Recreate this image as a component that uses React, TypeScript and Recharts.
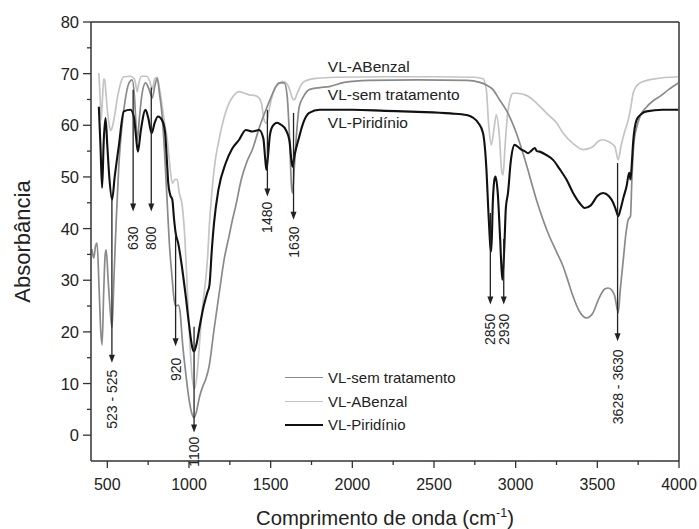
import React from "react";
import {
  LineChart,
  Line,
  XAxis,
  YAxis,
  ReferenceLine,
  ReferenceDot,
  Legend,
} from "recharts";

const FONT = '"Liberation Sans", Arial, Helvetica, sans-serif';
const INK = "#222";
const AXIS = "#333";

// [número de onda (cm-1), absorbância]
const semTratamento: [number, number][] = [
  [405, 36], [417, 34.3], [427, 36.5], [437, 37.2], [450, 28], [460, 20], [468, 17.5],
  [478, 28], [487, 35], [493, 35.9], [505, 30], [518, 24], [529, 20.8], [540, 30],
  [555, 42], [570, 52], [590, 60], [610, 65], [630, 68], [652, 68.8], [665, 66],
  [676, 60], [683, 57], [695, 61], [712, 66], [734, 68.2], [755, 67], [775, 65.3],
  [790, 67.5], [805, 69.1], [820, 66], [835, 62], [850, 55], [865, 46], [880, 37],
  [895, 31], [910, 26], [918, 25], [935, 25.2], [945, 24], [960, 18], [980, 12],
  [1000, 7], [1015, 4.5], [1031, 3.4], [1045, 4.5], [1065, 7.5], [1085, 9.5],
  [1102, 10.8], [1123, 13.3], [1153, 20.4], [1185, 27.5], [1215, 34], [1245, 38.5],
  [1266, 41.7], [1287, 44.5], [1320, 49.5], [1355, 53], [1388, 55.3], [1430, 59.5],
  [1471, 63], [1510, 66], [1552, 68.2], [1583, 68.2], [1600, 66], [1615, 58],
  [1628, 48], [1634, 46.9], [1645, 52], [1660, 59], [1675, 63.6], [1700, 65.5],
  [1736, 66.9], [1800, 67.3], [1859, 67.5], [1950, 68.3], [2100, 68.7], [2400, 68.8],
  [2700, 68.7], [2780, 68.3], [2820, 67.8], [2861, 66.9], [2900, 65], [2950, 62.5],
  [3004, 58.5], [3060, 53], [3127, 45.6], [3200, 39], [3250, 35.5], [3290, 32.7],
  [3311, 30.8], [3350, 27], [3390, 24], [3434, 22.7], [3470, 23.5], [3510, 26.5],
  [3545, 28.3], [3567, 28.5], [3590, 28], [3607, 26.9], [3618, 25], [3628, 23.7],
  [3640, 28], [3659, 34], [3675, 39], [3689, 41.7], [3703, 42.4], [3712, 50],
  [3724, 56.6], [3740, 59.5], [3761, 61.7], [3800, 63.5], [3840, 64.7], [3883, 65.6],
  [3940, 67], [3995, 68.2],
];

const aBenzal: [number, number][] = [
  [448, 70.1], [455, 66], [462, 61], [470, 65], [478, 69], [484, 68.8], [492, 66],
  [500, 63], [512, 60], [520, 59], [529, 59.5], [545, 62], [560, 65], [580, 68],
  [601, 69.4], [640, 69.5], [665, 69], [676, 67.5], [683, 66.5], [692, 68], [710, 69.5],
  [740, 69.5], [760, 68.5], [775, 67], [790, 69], [805, 69.3], [820, 67], [836, 63.6],
  [850, 60.5], [867, 57.2], [880, 53], [898, 48.8], [915, 49.5], [928, 49.5], [940, 47],
  [959, 44.3], [975, 38], [990, 28], [1005, 18], [1020, 11], [1035, 9], [1050, 12],
  [1065, 18], [1080, 24], [1102, 30], [1115, 35], [1123, 39.8], [1140, 47], [1160, 53],
  [1184, 57.2], [1215, 61.5], [1245, 64.3], [1275, 65.8], [1307, 66.5], [1340, 66.2],
  [1368, 65.9], [1400, 65.8], [1429, 65.3], [1445, 64], [1460, 61], [1474, 60.4],
  [1490, 63], [1521, 66.9], [1550, 68], [1572, 68.5], [1595, 68.2], [1613, 67.2],
  [1630, 65.5], [1644, 64.9], [1660, 66], [1695, 68.2], [1740, 68.9], [1777, 69.1],
  [1900, 69.3], [2200, 69.4], [2500, 69.4], [2750, 69.3], [2800, 69], [2820, 67],
  [2835, 60], [2851, 56.2], [2866, 59], [2882, 62], [2900, 58], [2915, 51], [2923, 50.4],
  [2935, 56], [2950, 62], [2970, 65.5], [2984, 66.2], [3004, 66.2], [3066, 65.8],
  [3127, 64.3], [3200, 62], [3250, 60.5], [3290, 58.5], [3350, 56.5], [3413, 55.3],
  [3470, 55.8], [3510, 57], [3535, 57.2], [3570, 56.8], [3607, 55.9], [3628, 53.3],
  [3645, 56], [3665, 58.5], [3689, 61], [3705, 63.5], [3719, 66.2], [3740, 67.6],
  [3761, 68.2], [3850, 69], [3995, 69.4],
];

const piridinio: [number, number][] = [
  [448, 63.6], [458, 56], [468, 47.9], [478, 57], [489, 61.4], [500, 56], [512, 50],
  [529, 45.6], [545, 50], [570, 55.9], [601, 62.7], [642, 63], [662, 61.7], [675, 58],
  [687, 54.9], [705, 59], [734, 63], [750, 61.5], [771, 58.5], [790, 60.5], [810, 61.7],
  [835, 61], [853, 58.8], [865, 53], [873, 48.8], [885, 46.5], [898, 45.6], [908, 42],
  [918, 39.2], [935, 37], [955, 33], [980, 26.9], [1000, 21.5], [1020, 17], [1031, 16.2],
  [1045, 17.5], [1065, 21], [1090, 25], [1112, 27.6], [1125, 29], [1140, 36], [1153, 41],
  [1180, 47.5], [1225, 52.7], [1265, 55.5], [1307, 57.2], [1348, 59.1], [1388, 58.8],
  [1429, 59.1], [1455, 57.5], [1468, 53], [1474, 51.4], [1482, 53.5], [1495, 58],
  [1511, 59.8], [1540, 60.5], [1563, 60.1], [1593, 59.1], [1615, 57], [1628, 53],
  [1634, 52], [1645, 54], [1675, 57.8], [1700, 60.5], [1736, 62.4], [1800, 63],
  [1859, 63], [2000, 63], [2200, 62.8], [2400, 62.6], [2600, 62.3], [2700, 62],
  [2738, 61.5], [2770, 60.5], [2800, 58.5], [2820, 52], [2835, 42], [2845, 36.5],
  [2851, 35.6], [2860, 45], [2870, 49.5], [2877, 50.1], [2890, 47], [2905, 38],
  [2918, 30.1], [2930, 36], [2940, 44], [2953, 46.9], [2970, 53], [2994, 56.2],
  [3015, 55.8], [3035, 55.3], [3055, 55], [3076, 54.6], [3100, 55.2], [3117, 55.6],
  [3130, 55], [3147, 54.9], [3190, 54.2], [3229, 53.3], [3270, 51.5], [3311, 49.5],
  [3350, 47], [3390, 45], [3423, 44], [3460, 44.5], [3500, 46.3], [3535, 46.9],
  [3570, 46.3], [3597, 45], [3615, 43.5], [3628, 42.4], [3640, 43.5], [3660, 46],
  [3679, 48.2], [3695, 50.8], [3703, 49.5], [3710, 52], [3719, 56.6], [3740, 61],
  [3770, 62.2], [3801, 62.7], [3900, 63], [3995, 63],
];

const xTicks = [500, 750, 1000, 1250, 1500, 1750, 2000, 2250, 2500, 2750, 3000, 3250, 3500, 3750, 4000];
const yTicks = [0, 5, 10, 15, 20, 25, 30, 35, 40, 45, 50, 55, 60, 65, 70, 75, 80];

// setas de atribuição das bandas
const arrowWn = [528, 658, 769, 918, 1031, 1480, 1640, 2845, 2927, 3624];
const arrowFrom = [45.6, 66.9, 67.3, 39.2, 21, 63, 62.4, 43, 38, 52.7];
const arrowTo = [14, 43.3, 43.3, 17.2, 0.5, 46.2, 41.7, 25.3, 25.3, 18.2];
const arrowText = ["523 - 525", "630", "800", "920", "1100", "1480", "1630", "2850", "2930", "3628 - 3630"];
const arrowTextTop = [12.7, 40.4, 40.4, 15, -0.3, 45.2, 40.4, 23.5, 23.5, 16.6];

// rótulos das curvas no topo
const tagNames = ["VL-ABenzal", "VL-sem tratamento", "VL-Piridínio"];
const tagLevel = [71.3, 65.9, 60.6];
const tagWn = 1850;

const toRows = (pts: [number, number][]) => pts.map(([wn, a]) => ({ wn, a }));

const series = [
  { name: "VL-sem tratamento", color: "#8a8a8a", width: 1.7, data: toRows(semTratamento) },
  { name: "VL-ABenzal", color: "#c4c4c4", width: 1.7, data: toRows(aBenzal) },
  { name: "VL-Piridínio", color: "#111111", width: 2.1, data: toRows(piridinio) },
];
// ordem de desenho: claro por baixo, preto por cima
const drawOrder = [1, 0, 2];

const XTick = (props: any) => {
  const { x, y, payload } = props;
  const major = payload.value % 500 === 0;
  return (
    <g>
      <line x1={x} y1={y} x2={x} y2={y + (major ? 7 : 4)} stroke={AXIS} strokeWidth={1.3} />
      {major && (
        <text x={x} y={y + 29} textAnchor="middle" fontSize={16} fill={INK} fontFamily={FONT}>
          {payload.value}
        </text>
      )}
    </g>
  );
};

const YTick = (props: any) => {
  const { x, y, payload } = props;
  const major = payload.value % 10 === 0;
  return (
    <g>
      <line x1={x - (major ? 8 : 4)} y1={y} x2={x} y2={y} stroke={AXIS} strokeWidth={1.3} />
      {major && (
        <text x={x - 12} y={y} textAnchor="end" dominantBaseline="central" fontSize={16.5} fill={INK} fontFamily={FONT}>
          {payload.value}
        </text>
      )}
    </g>
  );
};

const XTitle = (props: any) => {
  const { x, y, width } = props.viewBox;
  return (
    <text x={x + width / 2} y={y + 64} textAnchor="middle" fontSize={20.3} fill={INK} fontFamily={FONT}>
      Comprimento de onda (cm
      <tspan dy={-8} fontSize={12.5}>-1</tspan>
      <tspan dy={8}>)</tspan>
    </text>
  );
};

const YTitle = (props: any) => {
  const { y, height } = props.viewBox;
  const cx = 22;
  const cy = y + height / 2;
  return (
    <text
      x={cx}
      y={cy}
      transform={`rotate(-90 ${cx} ${cy})`}
      textAnchor="middle"
      dominantBaseline="central"
      fontSize={22}
      fill={INK}
      fontFamily={FONT}
    >
      Absorbância
    </text>
  );
};

const ArrowHead = (props: any) => {
  const { cx, cy } = props;
  return <polygon points={`${cx - 3},${cy - 8} ${cx + 3},${cy - 8} ${cx},${cy}`} fill={INK} />;
};

const makeVerticalText = (text: string) => (props: any) => {
  const { cx, cy } = props;
  return (
    <text
      x={cx}
      y={cy}
      transform={`rotate(-90 ${cx} ${cy})`}
      textAnchor="end"
      dominantBaseline="central"
      fontSize={14}
      fill={INK}
      fontFamily={FONT}
    >
      {text}
    </text>
  );
};

const makeTag = (text: string) => (props: any) => {
  const { cx, cy } = props;
  return (
    <text x={cx} y={cy} dominantBaseline="central" fontSize={15.5} fill={INK} fontFamily={FONT}>
      {text}
    </text>
  );
};

const LegendBox = () => (
  <div style={{ fontFamily: FONT, fontSize: 15, color: INK }}>
    {series.map((s) => (
      <div key={s.name} style={{ display: "flex", alignItems: "center", height: 23.5 }}>
        <div style={{ width: 38, borderTop: `${s.width}px solid ${s.color}`, marginRight: 5 }} />
        <span>{s.name}</span>
      </div>
    ))}
  </div>
);

export default function App() {
  return (
    <div style={{ position: "absolute", left: 0, top: 0, width: 699, height: 529, background: "#fff" }}>
      <LineChart width={699} height={529} margin={{ top: 22, right: 20, bottom: 0, left: 31 }}>
        <XAxis
          dataKey="wn"
          type="number"
          domain={[400, 4000]}
          allowDataOverflow
          ticks={xTicks}
          interval={0}
          tick={<XTick />}
          tickSize={0}
          tickMargin={0}
          tickLine={false}
          height={68}
          axisLine={{ stroke: AXIS, strokeWidth: 1.5 }}
          label={<XTitle />}
        />
        <YAxis
          type="number"
          domain={[-5, 80]}
          allowDataOverflow
          ticks={yTicks}
          interval={0}
          tick={<YTick />}
          tickSize={0}
          tickMargin={0}
          tickLine={false}
          width={60}
          axisLine={{ stroke: AXIS, strokeWidth: 1.5 }}
          label={<YTitle />}
        />
        <ReferenceLine y={80} stroke={AXIS} strokeWidth={1.5} />
        <ReferenceLine x={4000} stroke={AXIS} strokeWidth={1.5} />

        {drawOrder.map((i) => (
          <Line
            key={series[i].name}
            data={series[i].data}
            dataKey="a"
            name={series[i].name}
            type="monotone"
            stroke={series[i].color}
            strokeWidth={series[i].width}
            dot={false}
            activeDot={false}
            isAnimationActive={false}
          />
        ))}

        {arrowWn.map((wn, i) => (
          <ReferenceLine
            key={`seta-${i}`}
            segment={[
              { x: wn, y: arrowFrom[i] },
              { x: wn, y: arrowTo[i] + 1 },
            ]}
            stroke={INK}
            strokeWidth={1.3}
          />
        ))}
        {arrowWn.map((wn, i) => (
          <ReferenceDot key={`ponta-${i}`} x={wn} y={arrowTo[i]} r={3} shape={ArrowHead} />
        ))}
        {arrowWn.map((wn, i) => (
          <ReferenceDot
            key={`txt-${i}`}
            x={wn}
            y={arrowTextTop[i]}
            r={1}
            shape={makeVerticalText(arrowText[i])}
          />
        ))}
        {tagNames.map((t, i) => (
          <ReferenceDot key={`tag-${i}`} x={tagWn} y={tagLevel[i]} r={1} shape={makeTag(t)} />
        ))}

        <Legend
          layout="vertical"
          align="center"
          verticalAlign="middle"
          content={<LegendBox />}
          wrapperStyle={{ position: "absolute", left: 285, top: 366, width: 200, height: 72 }}
        />
      </LineChart>
    </div>
  );
}
